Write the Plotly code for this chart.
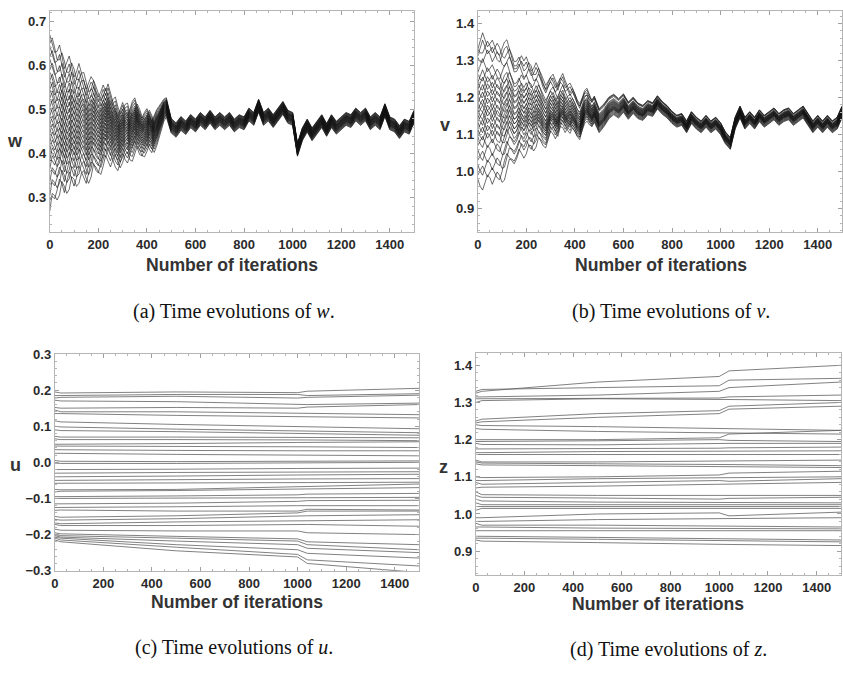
import plotly.graph_objects as go

W, H = 843, 674

# ---------------- data ----------------
# iteration grid for panels (a) and (b)
grid_x = list(range(0, 510, 10)) + list(range(520, 1520, 20))

# (a) w: main trajectory (whole run)
w_common = [
    0.48, 0.47, 0.455, 0.465, 0.485, 0.47, 0.445, 0.465, 0.485, 0.465,
    0.445, 0.46, 0.485, 0.47, 0.455, 0.44, 0.46, 0.48, 0.475, 0.455,
    0.445, 0.46, 0.48, 0.47, 0.49, 0.475, 0.455, 0.44, 0.43, 0.45,
    0.465, 0.45, 0.44, 0.455, 0.475, 0.485, 0.465, 0.45, 0.445, 0.46,
    0.47, 0.455, 0.445, 0.46, 0.475, 0.485, 0.495, 0.505, 0.51, 0.485,
    0.465,
    0.455, 0.47, 0.46, 0.475, 0.465, 0.48, 0.47, 0.485, 0.47, 0.48,
    0.47, 0.48, 0.465, 0.475, 0.47, 0.49, 0.48, 0.51, 0.48, 0.49,
    0.475, 0.49, 0.505, 0.485, 0.48, 0.41, 0.445, 0.465, 0.445, 0.46,
    0.475, 0.455, 0.475, 0.46, 0.47, 0.48, 0.475, 0.49, 0.48, 0.49,
    0.47, 0.48, 0.47, 0.5, 0.47, 0.465, 0.45, 0.465, 0.46, 0.485,
]
# (a) w: second early trajectory (iterations 0-500), out of phase with the first
w_alt_early = [
    0.47, 0.49, 0.475, 0.455, 0.46, 0.485, 0.47, 0.45, 0.455, 0.48,
    0.47, 0.45, 0.455, 0.475, 0.48, 0.46, 0.445, 0.455, 0.48, 0.47,
    0.455, 0.445, 0.46, 0.48, 0.465, 0.45, 0.465, 0.475, 0.455, 0.44,
    0.45, 0.465, 0.47, 0.45, 0.445, 0.46, 0.475, 0.465, 0.45, 0.445,
    0.455, 0.47, 0.46, 0.445, 0.455, 0.47, 0.485, 0.5, 0.505, 0.485,
    0.465,
]
w_env_up = [
    1.0, 0.96, 0.92, 0.88, 0.85, 0.8, 0.78, 0.75, 0.72, 0.7,
    0.68, 0.66, 0.63, 0.6, 0.58, 0.56, 0.53, 0.5, 0.48, 0.46,
    0.44, 0.42, 0.4, 0.38, 0.36, 0.34, 0.32, 0.3, 0.29, 0.28,
    0.27, 0.26, 0.25, 0.24, 0.23, 0.22, 0.21, 0.2, 0.19, 0.18,
    0.17, 0.16, 0.15, 0.14, 0.13, 0.12, 0.11, 0.1, 0.09, 0.085,
    0.08,
    0.078, 0.076, 0.075, 0.074, 0.073, 0.072, 0.072, 0.072, 0.072, 0.072,
    0.072, 0.072, 0.072, 0.072, 0.072, 0.072, 0.072, 0.072, 0.072, 0.072,
    0.072, 0.072, 0.072, 0.072, 0.072, 0.072, 0.072, 0.072, 0.072, 0.072,
    0.072, 0.072, 0.072, 0.072, 0.072, 0.072, 0.072, 0.072, 0.072, 0.072,
    0.072, 0.072, 0.072, 0.072, 0.072, 0.072, 0.072, 0.072, 0.072, 0.072,
]
w_env_dn = [
    1.0, 0.9, 0.85, 0.8, 0.77, 0.74, 0.72, 0.7, 0.68, 0.66,
    0.64, 0.62, 0.61, 0.6, 0.59, 0.58, 0.56, 0.54, 0.52, 0.5,
    0.48, 0.46, 0.44, 0.42, 0.41, 0.4, 0.39, 0.38, 0.37, 0.36,
    0.35, 0.34, 0.33, 0.32, 0.31, 0.3, 0.29, 0.28, 0.27, 0.26,
    0.25, 0.24, 0.23, 0.21, 0.19, 0.17, 0.15, 0.13, 0.11, 0.1,
    0.09,
    0.088, 0.085, 0.082, 0.08, 0.078, 0.078, 0.078, 0.078, 0.078, 0.078,
    0.078, 0.078, 0.078, 0.078, 0.078, 0.078, 0.078, 0.078, 0.078, 0.078,
    0.078, 0.078, 0.078, 0.078, 0.078, 0.078, 0.078, 0.078, 0.078, 0.078,
    0.078, 0.078, 0.078, 0.078, 0.078, 0.078, 0.078, 0.078, 0.078, 0.078,
    0.078, 0.078, 0.078, 0.078, 0.078, 0.078, 0.078, 0.078, 0.078, 0.078,
]
w_offsets = [0.19, 0.18, 0.165, 0.15, 0.135, 0.12, 0.105, 0.095, 0.085, 0.075,
             0.065, 0.055, 0.045, 0.035, 0.025, 0.015, 0.005, -0.005, -0.015,
             -0.025, -0.035, -0.045, -0.055, -0.065, -0.075, -0.085, -0.095,
             -0.105, -0.12, -0.135, -0.15, -0.165, -0.185, -0.2]

# (b) v: main trajectory (whole run)
v_common = [
    1.15, 1.165, 1.175, 1.16, 1.145, 1.155, 1.165, 1.15, 1.135, 1.13,
    1.15, 1.17, 1.18, 1.16, 1.14, 1.125, 1.13, 1.15, 1.165, 1.155,
    1.17, 1.155, 1.14, 1.15, 1.17, 1.16, 1.14, 1.125, 1.115, 1.135,
    1.155, 1.165, 1.15, 1.135, 1.16, 1.175, 1.16, 1.145, 1.135, 1.15,
    1.14, 1.125, 1.115, 1.14, 1.165, 1.175, 1.16, 1.145, 1.16, 1.145,
    1.13,
    1.145, 1.165, 1.175, 1.165, 1.18, 1.16, 1.175, 1.16, 1.155, 1.17,
    1.165, 1.185, 1.17, 1.16, 1.145, 1.135, 1.14, 1.12, 1.145, 1.13,
    1.12, 1.135, 1.12, 1.13, 1.115, 1.09, 1.075, 1.13, 1.16, 1.13,
    1.145, 1.13, 1.15, 1.135, 1.145, 1.155, 1.14, 1.15, 1.155, 1.14,
    1.15, 1.16, 1.14, 1.12, 1.135, 1.12, 1.135, 1.12, 1.13, 1.16,
]
# (b) v: second early trajectory (iterations 0-500)
v_alt_early = [
    1.16, 1.14, 1.13, 1.15, 1.17, 1.16, 1.14, 1.155, 1.17, 1.16,
    1.14, 1.135, 1.15, 1.17, 1.16, 1.145, 1.15, 1.165, 1.15, 1.135,
    1.145, 1.165, 1.16, 1.14, 1.145, 1.165, 1.155, 1.14, 1.13, 1.145,
    1.16, 1.15, 1.135, 1.15, 1.165, 1.16, 1.145, 1.155, 1.165, 1.155,
    1.14, 1.13, 1.125, 1.145, 1.16, 1.165, 1.155, 1.15, 1.16, 1.145,
    1.13,
]
v_env_up = [
    0.9, 0.95, 1.0, 0.98, 0.96, 0.95, 0.95, 0.94, 0.93, 0.92,
    0.91, 0.9, 0.88, 0.85, 0.82, 0.8, 0.78, 0.76, 0.74, 0.72,
    0.7, 0.68, 0.66, 0.64, 0.62, 0.6, 0.58, 0.56, 0.54, 0.52,
    0.5, 0.49, 0.48, 0.47, 0.46, 0.45, 0.43, 0.41, 0.39, 0.37,
    0.35, 0.33, 0.31, 0.29, 0.27, 0.25, 0.24, 0.23, 0.22, 0.21,
    0.2,
    0.19, 0.18, 0.17, 0.16, 0.15, 0.14, 0.13, 0.125, 0.12, 0.11,
    0.105, 0.1, 0.095, 0.09, 0.088, 0.086, 0.085, 0.085, 0.085, 0.085,
    0.085, 0.085, 0.085, 0.085, 0.085, 0.085, 0.085, 0.085, 0.085, 0.085,
    0.085, 0.085, 0.085, 0.085, 0.085, 0.085, 0.085, 0.085, 0.085, 0.085,
    0.085, 0.085, 0.085, 0.085, 0.085, 0.085, 0.085, 0.085, 0.085, 0.085,
]
v_env_dn = [
    1.0, 1.0, 1.0, 1.0, 1.0, 0.98, 0.97, 0.96, 0.95, 0.95,
    0.94, 0.88, 0.82, 0.76, 0.7, 0.65, 0.6, 0.58, 0.56, 0.55,
    0.54, 0.52, 0.5, 0.47, 0.44, 0.41, 0.38, 0.35, 0.32, 0.3,
    0.28, 0.27, 0.26, 0.25, 0.24, 0.23, 0.22, 0.21, 0.2, 0.2,
    0.19, 0.19, 0.18, 0.17, 0.17, 0.16, 0.16, 0.15, 0.15, 0.14,
    0.14,
    0.13, 0.125, 0.12, 0.115, 0.11, 0.105, 0.1, 0.097, 0.094, 0.092,
    0.09, 0.088, 0.086, 0.085, 0.085, 0.085, 0.085, 0.085, 0.085, 0.085,
    0.085, 0.085, 0.085, 0.085, 0.085, 0.085, 0.085, 0.085, 0.085, 0.085,
    0.085, 0.085, 0.085, 0.085, 0.085, 0.085, 0.085, 0.085, 0.085, 0.085,
    0.085, 0.085, 0.085, 0.085, 0.085, 0.085, 0.085, 0.085, 0.085, 0.085,
]
v_offsets = [0.2, 0.19, 0.18, 0.165, 0.13, 0.115, 0.1, 0.09, 0.08, 0.07,
             0.06, 0.05, 0.04, 0.03, 0.02, 0.01, 0.005, -0.005, -0.015, -0.025,
             -0.035, -0.045, -0.055, -0.065, -0.08, -0.1, -0.12, -0.14, -0.16, -0.18]

# (c) and (d): sampled iterations for the slowly drifting trajectories
slow_x = [0, 25, 500, 1000, 1040, 1500]
u_lines = [
    [0.195, 0.192, 0.195, 0.193, 0.197, 0.205],
    [0.185, 0.185, 0.188, 0.188, 0.185, 0.19],
    [0.178, 0.18, 0.183, 0.178, 0.18, 0.186],
    [0.172, 0.17, 0.168, 0.162, 0.16, 0.164],
    [0.152, 0.15, 0.152, 0.15, 0.153, 0.16],
    [0.145, 0.14, 0.14, 0.137, 0.135, 0.132],
    [0.135, 0.135, 0.13, 0.127, 0.125, 0.123],
    [0.115, 0.112, 0.105, 0.1, 0.098, 0.093],
    [0.10, 0.098, 0.092, 0.088, 0.087, 0.082],
    [0.09, 0.088, 0.085, 0.08, 0.078, 0.075],
    [0.072, 0.07, 0.07, 0.068, 0.068, 0.068],
    [0.065, 0.063, 0.063, 0.063, 0.062, 0.06],
    [0.05, 0.05, 0.052, 0.055, 0.055, 0.057],
    [0.045, 0.045, 0.045, 0.043, 0.043, 0.041],
    [0.035, 0.035, 0.033, 0.032, 0.032, 0.032],
    [0.025, 0.025, 0.022, 0.02, 0.02, 0.018],
    [0.005, 0.003, 0.002, 0.003, 0.003, 0.004],
    [-0.002, -0.003, -0.003, -0.002, -0.002, 0.0],
    [-0.02, -0.02, -0.019, -0.017, -0.017, -0.016],
    [-0.03, -0.03, -0.028, -0.027, -0.027, -0.026],
    [-0.04, -0.04, -0.038, -0.035, -0.035, -0.033],
    [-0.05, -0.05, -0.048, -0.046, -0.046, -0.045],
    [-0.058, -0.058, -0.057, -0.056, -0.056, -0.055],
    [-0.075, -0.076, -0.075, -0.068, -0.066, -0.06],
    [-0.082, -0.08, -0.078, -0.074, -0.072, -0.07],
    [-0.095, -0.095, -0.093, -0.09, -0.088, -0.086],
    [-0.10, -0.1, -0.1, -0.098, -0.098, -0.097],
    [-0.115, -0.115, -0.113, -0.108, -0.106, -0.105],
    [-0.125, -0.125, -0.123, -0.12, -0.12, -0.12],
    [-0.133, -0.132, -0.135, -0.135, -0.13, -0.132],
    [-0.15, -0.152, -0.148, -0.14, -0.135, -0.135],
    [-0.158, -0.16, -0.156, -0.15, -0.148, -0.145],
    [-0.168, -0.17, -0.165, -0.162, -0.16, -0.159],
    [-0.172, -0.175, -0.175, -0.173, -0.172, -0.177],
    [-0.185, -0.188, -0.19, -0.19, -0.195, -0.2],
    [-0.195, -0.198, -0.205, -0.212, -0.22, -0.228],
    [-0.2, -0.203, -0.21, -0.218, -0.228, -0.242],
    [-0.203, -0.207, -0.218, -0.228, -0.238, -0.25],
    [-0.207, -0.21, -0.228, -0.242, -0.252, -0.265],
    [-0.21, -0.215, -0.235, -0.255, -0.27, -0.287],
    [-0.215, -0.22, -0.245, -0.262, -0.28, -0.305],
]
z_lines = [
    [1.325, 1.33, 1.355, 1.37, 1.385, 1.40],
    [1.33, 1.335, 1.34, 1.345, 1.36, 1.365],
    [1.315, 1.315, 1.32, 1.33, 1.34, 1.355],
    [1.31, 1.31, 1.31, 1.312, 1.315, 1.32],
    [1.30, 1.305, 1.31, 1.31, 1.308, 1.305],
    [1.25, 1.255, 1.27, 1.278, 1.29, 1.30],
    [1.245, 1.248, 1.26, 1.27, 1.282, 1.29],
    [1.24, 1.238, 1.235, 1.23, 1.228, 1.225],
    [1.23, 1.228, 1.222, 1.22, 1.218, 1.215],
    [1.20, 1.20, 1.20, 1.205, 1.215, 1.225],
    [1.195, 1.195, 1.197, 1.2, 1.198, 1.195],
    [1.19, 1.187, 1.186, 1.19, 1.19, 1.19],
    [1.175, 1.175, 1.175, 1.177, 1.178, 1.18],
    [1.165, 1.165, 1.168, 1.17, 1.17, 1.17],
    [1.16, 1.16, 1.16, 1.16, 1.16, 1.16],
    [1.145, 1.14, 1.14, 1.142, 1.143, 1.145],
    [1.14, 1.137, 1.135, 1.135, 1.133, 1.13],
    [1.135, 1.132, 1.13, 1.128, 1.127, 1.125],
    [1.10, 1.098, 1.10, 1.105, 1.11, 1.115],
    [1.09, 1.09, 1.095, 1.097, 1.098, 1.10],
    [1.085, 1.08, 1.085, 1.09, 1.088, 1.095],
    [1.07, 1.072, 1.075, 1.08, 1.082, 1.085],
    [1.06, 1.052, 1.05, 1.05, 1.05, 1.05],
    [1.05, 1.045, 1.043, 1.04, 1.042, 1.045],
    [1.04, 1.035, 1.032, 1.03, 1.03, 1.03],
    [1.03, 1.025, 1.025, 1.025, 1.025, 1.025],
    [1.02, 1.02, 1.02, 1.02, 1.02, 1.02],
    [1.01, 1.015, 1.015, 1.015, 1.015, 1.015],
    [0.99, 0.99, 1.0, 1.003, 0.995, 1.005],
    [0.98, 0.98, 0.985, 0.987, 0.988, 0.99],
    [0.975, 0.97, 0.97, 0.968, 0.966, 0.965],
    [0.965, 0.965, 0.962, 0.96, 0.96, 0.96],
    [0.955, 0.955, 0.955, 0.955, 0.955, 0.955],
    [0.94, 0.94, 0.937, 0.933, 0.932, 0.93],
    [0.935, 0.935, 0.932, 0.928, 0.927, 0.925],
    [0.93, 0.927, 0.923, 0.92, 0.918, 0.915],
]

x_ticks = [0, 200, 400, 600, 800, 1000, 1200, 1400]
captions = ["(a) Time evolutions of <i>w</i>.", "(b) Time evolutions of <i>v</i>.",
            "(c) Time evolutions of <i>u</i>.", "(d) Time evolutions of <i>z</i>."]
y_names = ["w", "v", "u", "z"]

# ---------------- layout helpers ----------------
def px_x(p):
    return p / W

def px_y(p):
    return 1 - p / H

panels = [
    dict(x0=46, x1=412, y0=4, y1=230, yr=[0.222, 0.724], yt=[0.3, 0.4, 0.5, 0.6, 0.7]),
    dict(x0=476, x1=842, y0=4, y1=230, yr=[0.836, 1.434], yt=[0.9, 1.0, 1.1, 1.2, 1.3, 1.4]),
    dict(x0=51, x1=417, y0=354, y1=576, yr=[-0.301, 0.301], yt=[-0.3, -0.2, -0.1, 0.0, 0.1, 0.2, 0.3]),
    dict(x0=474, x1=841, y0=353, y1=580, yr=[0.836, 1.434], yt=[0.9, 1.0, 1.1, 1.2, 1.3, 1.4]),
]

fig = go.Figure()

dark = "rgba(20,20,20,0.7)"
grey = "rgba(90,90,90,0.85)"

n_early = len(w_alt_early)

def add_bundle(common, alt_early, env_up, env_dn, offsets, axis_idx):
    alt_path = alt_early + common[n_early:]
    for i, off in enumerate(offsets):
        base = common if i % 2 == 0 else alt_path
        env = env_up if off > 0 else env_dn
        ys = [c + off * e for c, e in zip(base, env)]
        fig.add_trace(go.Scatter(x=grid_x, y=ys, mode="lines",
                                 line=dict(color=dark, width=0.9),
                                 xaxis=f"x{axis_idx}", yaxis=f"y{axis_idx}",
                                 showlegend=False, hoverinfo="skip"))

add_bundle(w_common, w_alt_early, w_env_up, w_env_dn, w_offsets, 1)
add_bundle(v_common, v_alt_early, v_env_up, v_env_dn, v_offsets, 2)

for line in u_lines:
    fig.add_trace(go.Scatter(x=slow_x, y=line, mode="lines",
                             line=dict(color=grey, width=0.9),
                             xaxis="x3", yaxis="y3", showlegend=False, hoverinfo="skip"))
for line in z_lines:
    fig.add_trace(go.Scatter(x=slow_x, y=line, mode="lines",
                             line=dict(color=grey, width=0.9),
                             xaxis="x4", yaxis="y4", showlegend=False, hoverinfo="skip"))

tickfont = dict(family="Arial", size=13, color="#2a2a2a", weight="bold")
layout = dict(width=W, height=H, margin=dict(l=0, r=0, t=0, b=0),
              paper_bgcolor="white", plot_bgcolor="white", showlegend=False)

annotations = []
for i, p in enumerate(panels, start=1):
    sfx = "" if i == 1 else str(i)
    layout["xaxis" + sfx] = dict(
        domain=[px_x(p["x0"]), px_x(p["x1"])], range=[0, 1500],
        anchor="y" + sfx, tickvals=x_ticks, ticks="inside", ticklen=4,
        tickcolor="#a0a0a0", showline=True, linecolor="#b5b5b5", linewidth=1,
        mirror="ticks", showgrid=False, zeroline=False, tickfont=tickfont,
        minor=dict(ticks="inside", ticklen=2, dtick=50, tick0=0, tickcolor="#b5b5b5"),
    )
    layout["yaxis" + sfx] = dict(
        domain=[px_y(p["y1"]), px_y(p["y0"])], range=p["yr"],
        anchor="x" + sfx, tickvals=p["yt"], tickformat=".1f", ticks="inside",
        ticklen=4, tickcolor="#a0a0a0", showline=True, linecolor="#b5b5b5",
        linewidth=1, mirror="ticks", showgrid=False, zeroline=False,
        tickfont=tickfont,
        minor=dict(ticks="inside", ticklen=2, dtick=0.02, tick0=0, tickcolor="#b5b5b5"),
    )

# x-axis titles
for cx, cy in [(229, 263), (660, 263), (234, 608), (657, 610)]:
    annotations.append(dict(x=px_x(cx), y=px_y(cy), xref="paper", yref="paper",
                            text="Number of iterations", showarrow=False,
                            xanchor="center", yanchor="middle",
                            font=dict(family="Arial", size=17.6, color="#333", weight="bold")))
# y-axis titles
for name, (cx, cy) in zip(y_names, [(11, 137), (443, 120), (12, 468), (442, 470)]):
    annotations.append(dict(x=px_x(cx), y=px_y(cy), xref="paper", yref="paper",
                            text=name, showarrow=False, xanchor="center", yanchor="middle",
                            font=dict(family="Arial", size=18, color="#333", weight="bold")))
# captions
for cap, (cx, cy) in zip(captions, [(231, 311), (670, 311), (231, 654), (668, 656)]):
    annotations.append(dict(x=px_x(cx), y=px_y(cy), xref="paper", yref="paper",
                            text=cap, showarrow=False, xanchor="center", yanchor="middle",
                            font=dict(family="Liberation Serif", size=20, color="#111")))

layout["annotations"] = annotations
fig.update_layout(**layout)
fig.write_html("out.html")
